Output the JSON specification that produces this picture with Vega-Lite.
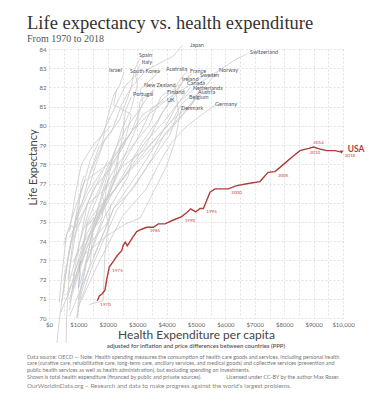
{
  "$schema": "https://vega.github.io/schema/vega-lite/v6.json",
  "padding": {"left": 27, "top": 14, "right": 5, "bottom": 5},
  "background": "white",
  "config": {
    "view": {"stroke": null},
    "concat": {"spacing": 0},
    "axis": {
      "grid": true, "gridColor": "#dcdcdc", "gridDash": [2, 2], "gridWidth": 0.8,
      "ticks": false, "domain": false, "labelOverlap": false, "labelFlush": false, "labelBound": false, "labelSeparation": 0,
      "labelFont": "Lato", "labelFontSize": 6, "labelColor": "#666",
      "titleFont": "Lato", "titleFontWeight": "normal", "titleColor": "#444"
    },
    "axisX": {"labelOverlap": false},
    "axisY": {"labelOverlap": false}
  },
  "title": {
    "text": "Life expectancy vs. health expenditure",
    "subtitle": "From 1970 to 2018",
    "anchor": "start", "frame": "bounds",
    "font": "Liberation Serif", "fontSize": 18.5, "fontWeight": "normal", "color": "#333",
    "subtitleFont": "Liberation Serif", "subtitleFontSize": 10, "subtitleColor": "#555",
    "subtitlePadding": 1, "offset": -1
  },
  "datasets": {
    "lines": [
      {"c":"JPN","t":1970,"x":650,"y":72.0},{"c":"JPN","t":1975,"x":900,"y":75.1},{"c":"JPN","t":1980,"x":1150,"y":76.1},{"c":"JPN","t":1985,"x":1400,"y":77.6},{"c":"JPN","t":1990,"x":1700,"y":78.9},{"c":"JPN","t":1995,"x":2100,"y":79.6},{"c":"JPN","t":2000,"x":2500,"y":81.2},{"c":"JPN","t":2005,"x":2800,"y":82.0},{"c":"JPN","t":2010,"x":3300,"y":82.9},{"c":"JPN","t":2015,"x":4200,"y":83.6},{"c":"JPN","t":2018,"x":4550,"y":84.2},
      {"c":"CHE","t":1970,"x":1500,"y":73.1},{"c":"CHE","t":1980,"x":2200,"y":75.7},{"c":"CHE","t":1990,"x":3000,"y":77.5},{"c":"CHE","t":1995,"x":3500,"y":78.7},{"c":"CHE","t":2000,"x":3900,"y":79.8},{"c":"CHE","t":2005,"x":4400,"y":81.2},{"c":"CHE","t":2010,"x":5200,"y":82.3},{"c":"CHE","t":2014,"x":5900,"y":83.0},{"c":"CHE","t":2016,"x":6400,"y":83.5},{"c":"CHE","t":2018,"x":6750,"y":83.75},
      {"c":"ESP","t":1970,"x":500,"y":72.0},{"c":"ESP","t":1980,"x":950,"y":75.4},{"c":"ESP","t":1990,"x":1400,"y":77.0},{"c":"ESP","t":1995,"x":1600,"y":78.0},{"c":"ESP","t":2000,"x":1900,"y":79.3},{"c":"ESP","t":2005,"x":2400,"y":80.3},{"c":"ESP","t":2010,"x":2800,"y":82.0},{"c":"ESP","t":2015,"x":2900,"y":82.9},{"c":"ESP","t":2018,"x":3100,"y":83.5},
      {"c":"ITA","t":1970,"x":800,"y":71.6},{"c":"ITA","t":1980,"x":1300,"y":74.0},{"c":"ITA","t":1990,"x":2000,"y":77.1},{"c":"ITA","t":1995,"x":2150,"y":78.2},{"c":"ITA","t":2000,"x":2500,"y":79.9},{"c":"ITA","t":2005,"x":2800,"y":80.9},{"c":"ITA","t":2010,"x":3000,"y":82.1},{"c":"ITA","t":2015,"x":2950,"y":82.7},{"c":"ITA","t":2018,"x":3100,"y":83.2},
      {"c":"ISR","t":1995,"x":1400,"y":77.5},{"c":"ISR","t":2000,"x":1800,"y":79.0},{"c":"ISR","t":2005,"x":1950,"y":80.2},{"c":"ISR","t":2010,"x":2200,"y":81.6},{"c":"ISR","t":2015,"x":2400,"y":82.1},{"c":"ISR","t":2018,"x":2550,"y":82.8},
      {"c":"KOR","t":1983,"x":270,"y":68.7},{"c":"KOR","t":1985,"x":330,"y":69.6},{"c":"KOR","t":1990,"x":500,"y":71.7},{"c":"KOR","t":1995,"x":700,"y":73.5},{"c":"KOR","t":2000,"x":1000,"y":76.0},{"c":"KOR","t":2005,"x":1400,"y":78.2},{"c":"KOR","t":2010,"x":2000,"y":80.2},{"c":"KOR","t":2015,"x":2600,"y":82.1},{"c":"KOR","t":2018,"x":3000,"y":82.7},
      {"c":"AUS","t":1971,"x":1000,"y":71.0},{"c":"AUS","t":1980,"x":1500,"y":74.6},{"c":"AUS","t":1990,"x":2200,"y":77.0},{"c":"AUS","t":1995,"x":2500,"y":78.0},{"c":"AUS","t":2000,"x":3000,"y":79.3},{"c":"AUS","t":2005,"x":3500,"y":80.9},{"c":"AUS","t":2010,"x":4200,"y":81.8},{"c":"AUS","t":2015,"x":4500,"y":82.5},{"c":"AUS","t":2018,"x":4700,"y":82.85},
      {"c":"FRA","t":1970,"x":800,"y":72.2},{"c":"FRA","t":1980,"x":1400,"y":74.3},{"c":"FRA","t":1990,"x":2300,"y":76.9},{"c":"FRA","t":1995,"x":2700,"y":77.9},{"c":"FRA","t":2000,"x":3200,"y":79.2},{"c":"FRA","t":2005,"x":3700,"y":80.3},{"c":"FRA","t":2010,"x":4300,"y":81.8},{"c":"FRA","t":2015,"x":4600,"y":82.4},{"c":"FRA","t":2018,"x":4850,"y":82.7},
      {"c":"NOR","t":1970,"x":700,"y":74.2},{"c":"NOR","t":1980,"x":1300,"y":75.9},{"c":"NOR","t":1990,"x":1900,"y":76.7},{"c":"NOR","t":1995,"x":2500,"y":77.9},{"c":"NOR","t":2000,"x":3300,"y":78.8},{"c":"NOR","t":2005,"x":4200,"y":80.3},{"c":"NOR","t":2010,"x":4900,"y":81.2},{"c":"NOR","t":2015,"x":5500,"y":82.4},{"c":"NOR","t":2018,"x":5750,"y":82.8},
      {"c":"SWE","t":1970,"x":1200,"y":74.7},{"c":"SWE","t":1980,"x":1900,"y":75.8},{"c":"SWE","t":1990,"x":2300,"y":77.6},{"c":"SWE","t":1995,"x":2400,"y":78.8},{"c":"SWE","t":2000,"x":2800,"y":79.7},{"c":"SWE","t":2005,"x":3400,"y":80.6},{"c":"SWE","t":2010,"x":4200,"y":81.6},{"c":"SWE","t":2015,"x":4900,"y":82.2},{"c":"SWE","t":2018,"x":5250,"y":82.6},
      {"c":"IRL","t":1970,"x":600,"y":71.2},{"c":"IRL","t":1980,"x":1100,"y":72.9},{"c":"IRL","t":1990,"x":1300,"y":74.9},{"c":"IRL","t":1995,"x":1600,"y":75.6},{"c":"IRL","t":2000,"x":2200,"y":76.6},{"c":"IRL","t":2005,"x":3300,"y":79.0},{"c":"IRL","t":2010,"x":3900,"y":80.8},{"c":"IRL","t":2015,"x":4300,"y":81.6},{"c":"IRL","t":2018,"x":4550,"y":82.3},
      {"c":"CAN","t":1970,"x":1300,"y":72.9},{"c":"CAN","t":1980,"x":1900,"y":75.3},{"c":"CAN","t":1990,"x":2700,"y":77.4},{"c":"CAN","t":1995,"x":2800,"y":78.1},{"c":"CAN","t":2000,"x":3300,"y":79.2},{"c":"CAN","t":2005,"x":3900,"y":80.2},{"c":"CAN","t":2010,"x":4400,"y":81.2},{"c":"CAN","t":2015,"x":4700,"y":81.8},{"c":"CAN","t":2018,"x":4800,"y":82.0},
      {"c":"NLD","t":1972,"x":1200,"y":73.7},{"c":"NLD","t":1980,"x":1800,"y":75.8},{"c":"NLD","t":1990,"x":2400,"y":77.0},{"c":"NLD","t":1995,"x":2700,"y":77.6},{"c":"NLD","t":2000,"x":3100,"y":78.2},{"c":"NLD","t":2005,"x":4000,"y":79.6},{"c":"NLD","t":2010,"x":4800,"y":81.0},{"c":"NLD","t":2015,"x":5000,"y":81.5},{"c":"NLD","t":2018,"x":5150,"y":81.9},
      {"c":"AUT","t":1970,"x":700,"y":70.1},{"c":"AUT","t":1980,"x":1400,"y":72.7},{"c":"AUT","t":1990,"x":2200,"y":75.7},{"c":"AUT","t":1995,"x":2900,"y":76.8},{"c":"AUT","t":2000,"x":3500,"y":78.3},{"c":"AUT","t":2005,"x":3900,"y":79.5},{"c":"AUT","t":2010,"x":4600,"y":80.7},{"c":"AUT","t":2015,"x":4900,"y":81.3},{"c":"AUT","t":2018,"x":5050,"y":81.7},
      {"c":"BEL","t":1970,"x":700,"y":71.0},{"c":"BEL","t":1980,"x":1200,"y":73.3},{"c":"BEL","t":1990,"x":1900,"y":76.1},{"c":"BEL","t":1995,"x":2400,"y":77.0},{"c":"BEL","t":2000,"x":2800,"y":77.8},{"c":"BEL","t":2005,"x":3500,"y":79.1},{"c":"BEL","t":2010,"x":4200,"y":80.3},{"c":"BEL","t":2015,"x":4500,"y":81.1},{"c":"BEL","t":2018,"x":4750,"y":81.5},
      {"c":"DNK","t":1971,"x":1200,"y":73.3},{"c":"DNK","t":1980,"x":1900,"y":74.2},{"c":"DNK","t":1990,"x":2600,"y":74.9},{"c":"DNK","t":1995,"x":3100,"y":75.2},{"c":"DNK","t":2000,"x":3600,"y":76.7},{"c":"DNK","t":2005,"x":4000,"y":77.9},{"c":"DNK","t":2010,"x":4300,"y":79.3},{"c":"DNK","t":2015,"x":4450,"y":80.6},{"c":"DNK","t":2018,"x":4570,"y":81.05},
      {"c":"DEU","t":1970,"x":1000,"y":70.6},{"c":"DEU","t":1980,"x":1700,"y":72.9},{"c":"DEU","t":1990,"x":2500,"y":75.3},{"c":"DEU","t":1995,"x":3300,"y":76.7},{"c":"DEU","t":2000,"x":3800,"y":78.2},{"c":"DEU","t":2005,"x":4200,"y":79.2},{"c":"DEU","t":2010,"x":4700,"y":80.0},{"c":"DEU","t":2015,"x":5300,"y":80.7},{"c":"DEU","t":2018,"x":5680,"y":81.1},
      {"c":"NZL","t":1970,"x":1000,"y":71.5},{"c":"NZL","t":1980,"x":1300,"y":73.2},{"c":"NZL","t":1990,"x":1600,"y":75.4},{"c":"NZL","t":1995,"x":1900,"y":77.0},{"c":"NZL","t":2000,"x":2200,"y":78.6},{"c":"NZL","t":2005,"x":2600,"y":79.8},{"c":"NZL","t":2010,"x":3100,"y":80.9},{"c":"NZL","t":2015,"x":3400,"y":81.6},{"c":"NZL","t":2018,"x":3600,"y":81.9},
      {"c":"FIN","t":1970,"x":700,"y":70.8},{"c":"FIN","t":1980,"x":1300,"y":73.7},{"c":"FIN","t":1990,"x":2000,"y":75.0},{"c":"FIN","t":1995,"x":1800,"y":76.5},{"c":"FIN","t":2000,"x":2200,"y":77.7},{"c":"FIN","t":2005,"x":2800,"y":78.9},{"c":"FIN","t":2010,"x":3400,"y":80.0},{"c":"FIN","t":2015,"x":3800,"y":81.5},{"c":"FIN","t":2018,"x":4000,"y":81.75},
      {"c":"PRT","t":1975,"x":400,"y":70.3},{"c":"PRT","t":1980,"x":700,"y":71.4},{"c":"PRT","t":1990,"x":1200,"y":74.1},{"c":"PRT","t":1995,"x":1600,"y":75.3},{"c":"PRT","t":2000,"x":2100,"y":76.7},{"c":"PRT","t":2005,"x":2500,"y":78.2},{"c":"PRT","t":2010,"x":3000,"y":80.0},{"c":"PRT","t":2015,"x":3100,"y":81.3},{"c":"PRT","t":2018,"x":3500,"y":81.8},
      {"c":"GBR","t":1970,"x":700,"y":71.9},{"c":"GBR","t":1980,"x":1000,"y":73.7},{"c":"GBR","t":1990,"x":1400,"y":75.8},{"c":"GBR","t":1995,"x":1700,"y":76.7},{"c":"GBR","t":2000,"x":2000,"y":77.9},{"c":"GBR","t":2005,"x":2600,"y":79.2},{"c":"GBR","t":2010,"x":3200,"y":80.6},{"c":"GBR","t":2015,"x":3600,"y":81.0},{"c":"GBR","t":2018,"x":3900,"y":81.3},
      {"c":"GRC","t":1970,"x":500,"y":73.8},{"c":"GRC","t":1980,"x":800,"y":75.3},{"c":"GRC","t":1990,"x":1200,"y":77.1},{"c":"GRC","t":2000,"x":2000,"y":78.0},{"c":"GRC","t":2005,"x":2600,"y":79.3},{"c":"GRC","t":2010,"x":2800,"y":80.6},{"c":"GRC","t":2015,"x":2200,"y":81.1},{"c":"GRC","t":2018,"x":2300,"y":81.9},
      {"c":"LUX","t":1975,"x":1100,"y":71.0},{"c":"LUX","t":1980,"x":1500,"y":72.8},{"c":"LUX","t":1990,"x":2300,"y":75.6},{"c":"LUX","t":2000,"x":3400,"y":78.0},{"c":"LUX","t":2005,"x":4100,"y":79.5},{"c":"LUX","t":2010,"x":4400,"y":80.7},{"c":"LUX","t":2015,"x":4300,"y":82.0},{"c":"LUX","t":2018,"x":4500,"y":82.2},
      {"c":"ISL","t":1970,"x":800,"y":74.0},{"c":"ISL","t":1980,"x":1500,"y":76.7},{"c":"ISL","t":1990,"x":2100,"y":77.8},{"c":"ISL","t":2000,"x":2800,"y":79.7},{"c":"ISL","t":2005,"x":3200,"y":81.2},{"c":"ISL","t":2010,"x":3100,"y":81.9},{"c":"ISL","t":2018,"x":3800,"y":82.9},
      {"c":"SVN","t":1995,"x":1300,"y":74.8},{"c":"SVN","t":2000,"x":1800,"y":75.5},{"c":"SVN","t":2005,"x":2200,"y":77.4},{"c":"SVN","t":2010,"x":2500,"y":79.4},{"c":"SVN","t":2015,"x":2600,"y":80.8},{"c":"SVN","t":2018,"x":2800,"y":81.5},
      {"c":"CZE","t":1990,"x":800,"y":71.5},{"c":"CZE","t":1995,"x":1100,"y":73.3},{"c":"CZE","t":2000,"x":1300,"y":75.0},{"c":"CZE","t":2005,"x":1600,"y":76.1},{"c":"CZE","t":2010,"x":2000,"y":77.7},{"c":"CZE","t":2018,"x":2600,"y":79.1},
      {"c":"CHL","t":1995,"x":700,"y":74.5},{"c":"CHL","t":2000,"x":900,"y":76.5},{"c":"CHL","t":2005,"x":1100,"y":78.0},{"c":"CHL","t":2010,"x":1500,"y":79.0},{"c":"CHL","t":2018,"x":2100,"y":80.0},
      {"c":"EST","t":2000,"x":700,"y":70.4},{"c":"EST","t":2005,"x":900,"y":72.8},{"c":"EST","t":2010,"x":1300,"y":75.9},{"c":"EST","t":2018,"x":2000,"y":78.2},
      {"c":"POL","t":1990,"x":450,"y":70.9},{"c":"POL","t":1995,"x":550,"y":72.0},{"c":"POL","t":2000,"x":700,"y":73.7},{"c":"POL","t":2005,"x":900,"y":75.0},{"c":"POL","t":2010,"x":1300,"y":76.4},{"c":"POL","t":2018,"x":1800,"y":77.7},
      {"c":"HUN","t":1991,"x":950,"y":70.0},{"c":"HUN","t":2000,"x":1100,"y":71.3},{"c":"HUN","t":2005,"x":1400,"y":72.8},{"c":"HUN","t":2010,"x":1500,"y":74.7},{"c":"HUN","t":2018,"x":1900,"y":76.1},
      {"c":"SVK","t":2000,"x":800,"y":72.9},{"c":"SVK","t":2005,"x":1200,"y":74.0},{"c":"SVK","t":2010,"x":1800,"y":75.2},{"c":"SVK","t":2018,"x":2000,"y":77.2},
      {"c":"MEX","t":1990,"x":350,"y":70.8},{"c":"MEX","t":1995,"x":420,"y":72.0},{"c":"MEX","t":2000,"x":600,"y":74.4},{"c":"MEX","t":2005,"x":750,"y":74.8},{"c":"MEX","t":2010,"x":900,"y":74.7},{"c":"MEX","t":2018,"x":1100,"y":75.0},
      {"c":"TUR","t":1995,"x":580,"y":68.7},{"c":"TUR","t":2000,"x":600,"y":70.0},{"c":"TUR","t":2005,"x":700,"y":72.5},{"c":"TUR","t":2010,"x":950,"y":74.8},{"c":"TUR","t":2015,"x":1100,"y":77.0},{"c":"TUR","t":2018,"x":1200,"y":77.4},
      {"c":"LVA","t":2004,"x":950,"y":70.0},{"c":"LVA","t":2006,"x":1000,"y":70.8},{"c":"LVA","t":2010,"x":1300,"y":73.0},{"c":"LVA","t":2018,"x":1800,"y":75.1},
      {"c":"LTU","t":2000,"x":1360,"y":70.7},{"c":"LTU","t":2004,"x":1840,"y":70.9},{"c":"LTU","t":2010,"x":1900,"y":73.3},{"c":"LTU","t":2018,"x":2100,"y":75.9}
    ],
    "blue": [
      {"t":1,"x":1000,"y":71.6},{"t":2,"x":1060,"y":72.3},{"t":3,"x":1030,"y":72.7},{"t":4,"x":1090,"y":73.0}
    ],
    "usa": [
      {"t":1970,"x":1643,"y":70.9},{"t":1971,"x":1711,"y":71.15},{"t":1972,"x":1800,"y":71.25},{"t":1973,"x":1905,"y":71.45},{"t":1974,"x":1962,"y":72.0},
      {"t":1975,"x":2051,"y":72.65},{"t":1976,"x":2187,"y":72.95},{"t":1977,"x":2323,"y":73.25},{"t":1978,"x":2473,"y":73.5},{"t":1979,"x":2528,"y":73.8},
      {"t":1980,"x":2596,"y":73.95},{"t":1981,"x":2663,"y":73.75},{"t":1982,"x":2846,"y":74.2},{"t":1983,"x":2983,"y":74.5},{"t":1984,"x":3150,"y":74.62},
      {"t":1985,"x":3323,"y":74.72},{"t":1986,"x":3550,"y":74.72},{"t":1987,"x":3718,"y":74.9},{"t":1988,"x":3946,"y":74.9},{"t":1989,"x":4230,"y":75.1},
      {"t":1990,"x":4514,"y":75.28},{"t":1991,"x":4700,"y":75.5},{"t":1992,"x":4820,"y":75.68},{"t":1993,"x":4989,"y":75.52},{"t":1994,"x":5136,"y":75.7},
      {"t":1995,"x":5249,"y":75.7},{"t":1996,"x":5360,"y":76.1},{"t":1997,"x":5476,"y":76.55},{"t":1998,"x":5646,"y":76.72},{"t":1999,"x":5870,"y":76.72},
      {"t":2000,"x":6099,"y":76.72},{"t":2001,"x":6384,"y":76.89},{"t":2002,"x":6780,"y":77.0},{"t":2003,"x":7177,"y":77.1},{"t":2004,"x":7450,"y":77.58},
      {"t":2005,"x":7687,"y":77.62},{"t":2006,"x":7857,"y":77.84},{"t":2007,"x":8085,"y":78.14},{"t":2008,"x":8300,"y":78.42},{"t":2009,"x":8537,"y":78.71},
      {"t":2010,"x":8765,"y":78.8},{"t":2011,"x":8850,"y":78.83},{"t":2012,"x":8900,"y":78.86},{"t":2013,"x":8950,"y":78.88},{"t":2014,"x":8990,"y":78.9},
      {"t":2015,"x":9250,"y":78.78},{"t":2016,"x":9445,"y":78.71},{"t":2017,"x":9728,"y":78.71},{"t":2018,"x":9955,"y":78.63}
    ],
    "labels": [
      {"c":"Japan","x":4796,"y":84.22},{"c":"Switzerland","x":6837,"y":83.83},{"c":"Spain","x":3061,"y":83.7},{"c":"Italy","x":3153,"y":83.3},
      {"c":"Israel","x":2041,"y":82.92},{"c":"South Korea","x":2755,"y":82.86},{"c":"Australia","x":3980,"y":82.97},{"c":"France","x":4796,"y":82.86},
      {"c":"Norway","x":5782,"y":82.92},{"c":"Sweden","x":5136,"y":82.63},{"c":"Ireland","x":4524,"y":82.45},{"c":"Canada","x":4694,"y":82.24},
      {"c":"Netherlands","x":4898,"y":81.98},{"c":"Austria","x":5068,"y":81.74},{"c":"Belgium","x":4762,"y":81.51},{"c":"Denmark","x":4490,"y":80.94},
      {"c":"Germany","x":5646,"y":81.15},{"c":"New Zealand","x":3231,"y":82.14},{"c":"Finland","x":4014,"y":81.77},{"c":"Portugal","x":2857,"y":81.64},
      {"c":"UK","x":4014,"y":81.33}
    ]
  },
  "vconcat": [{
    "title": {
      "text": [
        "Data source: OECD — Note: Health spending measures the consumption of health care goods and services, including personal health",
        "care (curative care, rehabilitative care, long-term care, ancillary services, and medical goods) and collective services (prevention and",
        "public health services as well as health administration), but excluding spending on investments.",
        "Shown is total health expenditure (financed by public and private sources).\u00a0\u00a0\u00a0\u00a0\u00a0\u00a0\u00a0\u00a0\u00a0\u00a0\u00a0\u00a0\u00a0\u00a0\u00a0\u00a0\u00a0\u00a0Licensed under CC-BY by the author Max Roser."
      ],
      "subtitle": "OurWorldinData.org – Research and data to make progress against the world's largest problems.",
      "orient": "bottom", "anchor": "start", "frame": "bounds",
      "font": "Lato", "fontSize": 5.4, "fontWeight": "normal", "color": "#777", "lineHeight": 6.8,
      "subtitleFont": "Lato", "subtitleFontSize": 6.3, "subtitleColor": "#888", "subtitlePadding": 3,
      "offset": 6
    },
    "vconcat": [{
      "title": {
        "text": "adjusted for inflation and price differences between countries (PPP)",
        "orient": "bottom", "anchor": "middle",
        "font": "Lato", "fontSize": 6, "fontWeight": 600, "color": "#555", "offset": -2
      },
      "width": 294,
      "height": 269,
      "encoding": {
        "x": {"field": "x", "type": "quantitative", "scale": {"domain": [0, 10000], "nice": false},
          "axis": {"title": "Health Expenditure per capita", "titleFontSize": 12, "titlePadding": 2, "labelPadding": 3,
            "labelOverlap": false, "labelFlush": false, "labelBound": false, "labelSeparation": 0,
            "values": [0,500,1000,1500,2000,2500,3000,3500,4000,4500,5000,5500,6000,6500,7000,7500,8000,8500,9000,9500,10000],
            "labelExpr": "datum.value % 1000 ? '' : (datum.value < 10000 ? '$' + datum.value : '$' + format(datum.value, ','))"}},
        "y": {"field": "y", "type": "quantitative", "scale": {"domain": [70, 84], "nice": false, "zero": false},
          "axis": {"title": "Life Expectancy", "titleFontSize": 11, "titlePadding": 1, "labelPadding": 3, "titleY": 118,
            "labelOverlap": false, "labelFlush": false, "labelBound": false, "labelSeparation": 0,
            "values": [70,71,72,73,74,75,76,77,78,79,80,81,82,83,84]}}
      },
      "layer": [
        {
          "data": {"name": "lines"},
          "mark": {"type": "line", "color": "#cacaca", "strokeWidth": 0.8, "clip": false},
          "encoding": {
            "detail": {"field": "c"},
            "order": {"field": "t"}
          }
        },
        {
          "data": {"name": "blue"},
          "mark": {"type": "line", "color": "#9fb9d6", "strokeWidth": 0.9},
          "encoding": {"order": {"field": "t"}}
        },
        {
          "data": {"name": "labels"},
          "mark": {"type": "text", "font": "Lato", "fontSize": 5.5, "color": "#555", "align": "left", "baseline": "middle"},
          "encoding": {"text": {"field": "c"}}
        },
        {
          "data": {"name": "usa"},
          "mark": {"type": "line", "color": "#b23b3b", "strokeWidth": 1.4},
          "encoding": {"order": {"field": "t"}}
        },
        {
          "data": {"name": "usa"},
          "transform": [{"filter": "datum.t == 2018"}],
          "mark": {"type": "point", "shape": "triangle-down", "filled": true, "size": 14, "color": "#b23b3b", "opacity": 1},
          "encoding": {}
        },
        {
          "data": {"name": "usa"},
          "transform": [{"filter": "indexof([1970,1975,1985,1990,1995,2000,2005,2010,2018], datum.t) >= 0"}],
          "mark": {"type": "text", "font": "Lato", "fontSize": 4.5, "color": "#c04848", "align": "left", "baseline": "middle", "dx": 3, "dy": 4},
          "encoding": {"text": {"field": "t", "type": "nominal"}}
        },
        {
          "data": {"name": "usa"},
          "transform": [{"filter": "datum.t == 2014"}],
          "mark": {"type": "text", "font": "Lato", "fontSize": 4.5, "color": "#c04848", "align": "left", "baseline": "middle", "dx": 0, "dy": -4},
          "encoding": {"text": {"field": "t", "type": "nominal"}}
        },
        {
          "data": {"name": "usa"},
          "transform": [{"filter": "datum.t == 2018"}, {"calculate": "'USA'", "as": "name"}],
          "mark": {"type": "text", "font": "Lato", "fontSize": 8.5, "fontWeight": "bold", "color": "#b23b3b", "align": "left", "baseline": "middle", "dx": 6, "dy": -3},
          "encoding": {"text": {"field": "name"}}
        }
      ]
    }]
  }]
}
